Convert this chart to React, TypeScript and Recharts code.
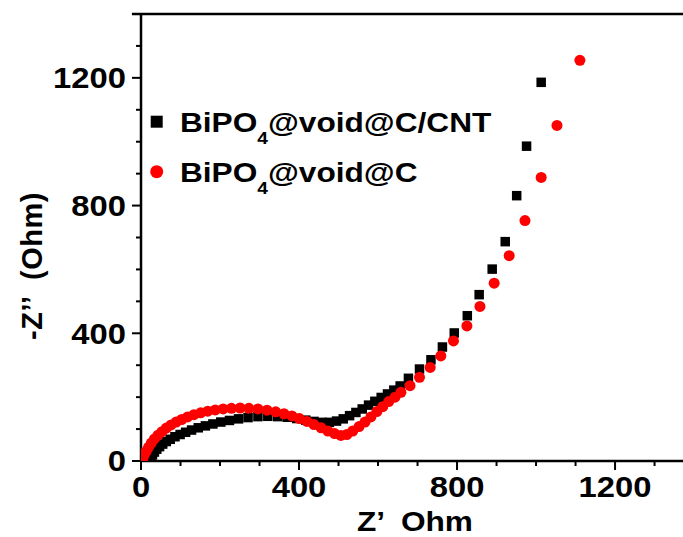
import React from 'react';
import { ScatterChart, Scatter, XAxis, YAxis, ReferenceLine, Legend } from 'recharts';

// BiPO4@void@C/CNT (black squares)
const cntX = [22, 25, 29, 34, 40, 47, 55, 64, 74, 86, 99, 113, 128, 145, 163, 182, 202, 224, 247, 271, 296, 321, 346, 370, 394, 417, 438, 458, 477, 495, 512, 528, 544, 560, 576, 592, 608, 624, 640, 656, 677, 705, 734, 763, 793, 826, 856, 889, 922, 951, 976, 1013];
const cntY = [2, 10, 19, 28, 37, 45, 53, 61, 68, 76, 83, 90, 97, 104, 110, 116, 122, 127, 132, 136, 139, 140, 139, 137, 133, 128, 124, 121, 121, 125, 132, 142, 152, 163, 175, 187, 199, 210, 222, 235, 259, 288, 317, 357, 401, 455, 521, 601, 687, 831, 986, 1186];

// BiPO4@void@C (red circles)
const cX = [4, 8, 13, 19, 26, 34, 43, 53, 64, 76, 89, 103, 118, 134, 151, 169, 188, 208, 229, 251, 273, 296, 319, 341, 362, 382, 401, 420, 438, 456, 473, 490, 506, 521, 536, 552, 567, 582, 597, 612, 627, 643, 658, 681, 705, 732, 759, 791, 825, 858, 894, 932, 972, 1013, 1053, 1111];
const cY = [4, 18, 30, 43, 56, 69, 81, 92, 103, 113, 122, 130, 138, 145, 151, 156, 160, 163, 165, 166, 165, 163, 159, 154, 148, 141, 133, 124, 114, 104, 94, 86, 80, 83, 94, 108, 122, 138, 155, 170, 186, 200, 215, 236, 262, 293, 329, 376, 423, 484, 557, 643, 753, 888, 1051, 1255];

const xTicks = [0, 100, 200, 300, 400, 500, 600, 700, 800, 900, 1000, 1100, 1200, 1300];
const yTicks = [0, 100, 200, 300, 400, 500, 600, 700, 800, 900, 1000, 1100, 1200, 1300];
const xMajor = [0, 400, 800, 1200];
const yMajor = [0, 400, 800, 1200];

const seriesNames = [
  ['BiPO', '4', '@void@C/CNT'],
  ['BiPO', '4', '@void@C'],
];
const seriesColors = ['#000000', '#ff0000'];

const FONT = '"Liberation Sans", Arial, sans-serif';
const SX = 1.13;

const cntData = cntX.map((x, i) => ({ x, y: cntY[i] }));
const cData = cX.map((x, i) => ({ x, y: cY[i] }));

const XTick = (props: any) => {
  const { x, y, payload } = props;
  const v = payload.value;
  const major = xMajor.includes(v);
  return (
    <g>
      <line x1={x} y1={y} x2={x} y2={y + (major ? 9 : 5)} stroke="#000" strokeWidth={2} />
      {major && (
        <g transform={`translate(${x},${y + 36}) scale(${SX},1)`}>
          <text x={0} y={0} textAnchor="middle" fontSize={29} fontWeight="bold" fontFamily={FONT} fill="#000">
            {v}
          </text>
        </g>
      )}
    </g>
  );
};

const YTick = (props: any) => {
  const { x, y, payload } = props;
  const v = payload.value;
  const major = yMajor.includes(v);
  return (
    <g>
      <line x1={x - (major ? 9 : 5)} y1={y} x2={x} y2={y} stroke="#000" strokeWidth={2} />
      {major && (
        <g transform={`translate(${x - 15},${y}) scale(${SX},1)`}>
          <text x={0} y={0} dy="0.36em" textAnchor="end" fontSize={29} fontWeight="bold" fontFamily={FONT} fill="#000">
            {v}
          </text>
        </g>
      )}
    </g>
  );
};

const XTitle = () => (
  <g transform={`translate(415,531) scale(${SX},1)`}>
    <text x={0} y={0} textAnchor="middle" fontSize={28} fontWeight="bold" fontFamily={FONT} fill="#000" style={{ whiteSpace: 'pre' }}>
      {'Z\u2019  Ohm'}
    </text>
  </g>
);

const YTitle = () => (
  <g transform={`translate(32,266) rotate(-90)`}>
    <text x={0} y={0} dy="0.36em" textAnchor="middle" fontSize={29} fontWeight="bold" fontFamily={FONT} fill="#000" style={{ whiteSpace: 'pre' }} letterSpacing={0.5}>
      {'-Z\u2019\u2019  (Ohm)'}
    </text>
  </g>
);

const Square = (props: any) => {
  const { cx, cy } = props;
  if (cx == null || cy == null) return null;
  return <rect x={cx - 4.75} y={cy - 4.75} width={9.5} height={9.5} fill="#000" />;
};

const Dot = (props: any) => {
  const { cx, cy } = props;
  if (cx == null || cy == null) return null;
  return <circle cx={cx} cy={cy} r={5.5} fill="#ff0000" />;
};

const LegendContent = () => (
  <svg width={683} height={537} style={{ position: 'absolute', left: 0, top: 0, pointerEvents: 'none' }}>
    {seriesNames.map((parts, i) => {
      const cy = 121.7 + i * 50;
      return (
        <g key={i}>
          {i === 0 ? (
            <rect x={150.7} y={cy - 6} width={12} height={12} fill={seriesColors[i]} />
          ) : (
            <circle cx={156.7} cy={cy} r={6.5} fill={seriesColors[i]} />
          )}
          <g transform={`translate(180,${cy + 10}) scale(${SX},1)`}>
            <text x={0} y={0} fontSize={28} fontWeight="bold" fontFamily={FONT} fill="#000">
              {parts[0]}
              <tspan fontSize={17} dy={12}>{parts[1]}</tspan>
              <tspan dy={-12}>{parts[2]}</tspan>
            </text>
          </g>
        </g>
      );
    })}
  </svg>
);

export default function App() {
  return (
    <div style={{ position: 'absolute', left: 0, top: 0, width: 683, height: 537, background: '#fff' }}>
      <ScatterChart width={683} height={537} margin={{ top: 14, right: 0, bottom: 0, left: 0 }}>
        <XAxis
          type="number"
          dataKey="x"
          domain={[0, 1372]}
          allowDataOverflow
          ticks={xTicks}
          interval={0}
          height={76}
          tickSize={0}
          tickMargin={0}
          tickLine={false}
          axisLine={{ stroke: '#000', strokeWidth: 2.5 }}
          tick={<XTick />}
          label={<XTitle />}
        />
        <YAxis
          type="number"
          dataKey="y"
          domain={[0, 1400]}
          allowDataOverflow
          ticks={yTicks}
          interval={0}
          width={141}
          tickSize={0}
          tickMargin={0}
          tickLine={false}
          axisLine={{ stroke: '#000', strokeWidth: 2.5 }}
          tick={<YTick />}
          label={<YTitle />}
        />
        <ReferenceLine
          segment={[{ x: -23, y: 1400 }, { x: 1372, y: 1400 }]}
          stroke="#000"
          strokeWidth={2.5}
          ifOverflow="visible"
        />
        <Legend
          layout="vertical"
          align="center"
          verticalAlign="middle"
          content={<LegendContent />}
          wrapperStyle={{ position: 'absolute', left: 0, top: 0, width: 683, height: 537, pointerEvents: 'none' }}
        />
        <Scatter name="BiPO4@void@C/CNT" data={cntData} fill="#000" shape={<Square />} isAnimationActive={false} />
        <Scatter name="BiPO4@void@C" data={cData} fill="#ff0000" shape={<Dot />} isAnimationActive={false} />
      </ScatterChart>
    </div>
  );
}
